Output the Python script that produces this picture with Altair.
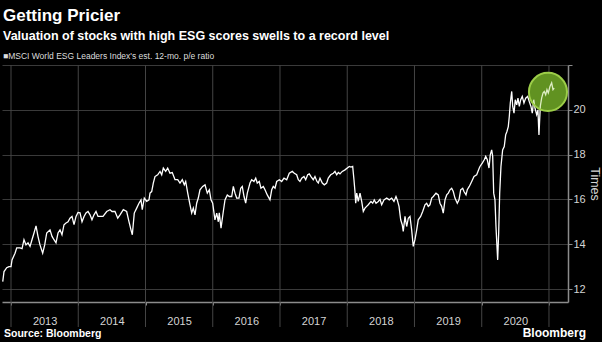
import altair as alt
import pandas as pd

FONT = "Liberation Sans"

# ---- data: MSCI World ESG Leaders Index est. 12-mo. p/e ratio (decimal years) ----
dates = [
    2012.877, 2012.896, 2012.936, 2012.97, 2013.0, 2013.015, 2013.06, 2013.085, 2013.134, 2013.164,
    2013.193, 2013.223, 2013.253, 2013.283, 2013.312, 2013.342, 2013.372, 2013.401, 2013.431, 2013.471,
    2013.501, 2013.531, 2013.58, 2013.61, 2013.639, 2013.669, 2013.699, 2013.729, 2013.758, 2013.788,
    2013.818, 2013.848, 2013.877, 2013.907, 2013.937, 2013.967, 2013.996,
    2014.026, 2014.056, 2014.086, 2014.115, 2014.145, 2014.175, 2014.204, 2014.234, 2014.264, 2014.294,
    2014.323, 2014.368, 2014.423, 2014.472, 2014.502, 2014.546, 2014.587, 2014.621, 2014.67, 2014.72,
    2014.755, 2014.784, 2014.804, 2014.833, 2014.869, 2014.903, 2014.933, 2014.952, 2014.982,
    2015.018, 2015.052, 2015.067, 2015.092, 2015.116, 2015.141, 2015.181, 2015.216, 2015.241, 2015.265,
    2015.3, 2015.33, 2015.364, 2015.398, 2015.439, 2015.479, 2015.513, 2015.547, 2015.577, 2015.598,
    2015.628, 2015.662, 2015.687, 2015.711, 2015.736, 2015.761, 2015.785, 2015.81, 2015.85, 2015.885,
    2015.919, 2015.949, 2015.974, 2015.999,
    2016.033, 2016.059, 2016.083, 2016.097, 2016.123, 2016.157, 2016.182, 2016.216, 2016.246, 2016.282,
    2016.306, 2016.331, 2016.356, 2016.39, 2016.416, 2016.439, 2016.465, 2016.49, 2016.514, 2016.554,
    2016.579, 2016.613, 2016.639, 2016.662, 2016.692, 2016.717, 2016.752, 2016.777, 2016.811, 2016.851,
    2016.877, 2016.9, 2016.926, 2016.951, 2016.99,
    2017.025, 2017.06, 2017.1, 2017.138, 2017.183, 2017.213, 2017.248, 2017.272, 2017.297, 2017.323,
    2017.357, 2017.382, 2017.412, 2017.436, 2017.461, 2017.495, 2017.52, 2017.55, 2017.57, 2017.595,
    2017.629, 2017.659, 2017.694, 2017.718, 2017.754, 2017.793, 2017.818, 2017.843, 2017.867, 2017.892,
    2017.926, 2017.967,
    2018.001, 2018.031, 2018.056, 2018.081, 2018.1, 2018.115, 2018.126, 2018.141, 2018.164, 2018.19,
    2018.215, 2018.239, 2018.264, 2018.289, 2018.313, 2018.353, 2018.379, 2018.402, 2018.428, 2018.462,
    2018.487, 2018.512, 2018.546, 2018.587, 2018.625, 2018.661, 2018.695, 2018.725, 2018.744, 2018.77,
    2018.795, 2018.818, 2018.833, 2018.859, 2018.884, 2018.908, 2018.933, 2018.958, 2018.982,
    2019.007, 2019.033, 2019.056, 2019.092, 2019.122, 2019.156, 2019.181, 2019.205, 2019.23, 2019.256,
    2019.28, 2019.32, 2019.354, 2019.379, 2019.404, 2019.428, 2019.454, 2019.479, 2019.503, 2019.528,
    2019.553, 2019.577, 2019.602, 2019.637, 2019.662, 2019.687, 2019.717, 2019.736, 2019.766, 2019.785,
    2019.815, 2019.851, 2019.885, 2019.925, 2019.964, 2019.974,
    2020.008, 2020.038, 2020.059, 2020.083, 2020.108, 2020.127, 2020.148, 2020.163, 2020.178, 2020.197,
    2020.212, 2020.227, 2020.237, 2020.252, 2020.267, 2020.286, 2020.311, 2020.335, 2020.356, 2020.375,
    2020.395, 2020.41, 2020.425, 2020.446, 2020.461, 2020.48, 2020.499, 2020.52, 2020.539, 2020.559,
    2020.58, 2020.603, 2020.628, 2020.654, 2020.683, 2020.707, 2020.732, 2020.752, 2020.773, 2020.792,
    2020.817, 2020.836, 2020.851, 2020.871, 2020.891, 2020.911, 2020.93, 2020.951, 2020.97, 2020.99,
    2021.015, 2021.04, 2021.06, 2021.078,
]
pe_ratio = [
    12.33, 12.78, 12.95, 13.0, 13.0, 13.3, 13.6, 13.84, 13.84, 13.8,
    14.2, 13.97, 14.06, 13.9, 14.2, 14.5, 14.82, 14.35, 13.97, 13.6,
    13.97, 14.5, 14.64, 14.35, 14.2, 14.06, 14.5, 14.64, 14.42, 14.87,
    14.95, 15.0, 15.16, 15.24, 14.87, 15.24, 15.42,
    15.4, 15.0, 15.24, 15.4, 15.46, 15.31, 15.09, 15.31, 15.46, 15.24,
    15.24, 15.24, 15.46, 15.54, 15.46, 15.46, 15.16, 15.31, 15.54, 15.46,
    15.0, 14.64, 14.42, 15.39, 15.61, 15.83, 15.98, 15.54, 16.06,
    15.91, 15.98, 16.28, 16.35, 16.73, 17.02, 17.1, 17.25, 17.1, 17.4,
    17.25, 17.4, 17.17, 17.2, 16.88, 16.88, 16.73, 16.88, 16.65, 16.8,
    16.28, 15.76, 15.39, 15.61, 15.31, 15.83, 16.06, 16.43, 16.58, 16.65,
    16.28, 16.43, 15.98, 15.83,
    15.09, 15.39, 15.0, 15.4, 14.72, 15.46, 15.98, 16.2, 16.13, 16.13,
    16.58, 16.28, 16.06, 16.06, 16.5, 16.58, 16.13, 15.83, 16.28, 16.73,
    16.88, 16.8, 16.95, 16.73, 16.8, 16.5, 16.58, 16.43, 16.2, 15.98,
    16.43, 16.58, 16.5, 16.8, 16.88,
    16.8, 16.95, 16.88, 17.17, 17.25, 17.17, 17.1, 16.88, 16.8, 16.95,
    17.02, 16.88, 17.1, 17.14, 17.02, 16.88, 17.02, 16.8, 16.73, 16.95,
    16.73, 16.65, 16.73, 16.95, 17.1, 17.17, 17.25, 17.1, 17.2, 17.14,
    17.25, 17.32,
    17.4, 17.47, 17.44, 17.47, 16.88, 16.35, 15.83, 16.28, 15.91, 16.28,
    15.91, 15.46, 15.61, 15.69, 15.76, 15.91, 15.83, 15.98, 15.83, 15.91,
    16.0, 15.76, 15.98, 16.06, 15.98, 16.06, 15.91, 16.13, 15.98, 15.69,
    15.09, 14.87, 14.57, 15.24, 14.79, 15.16, 15.24, 14.64, 13.9,
    14.2, 14.64, 15.09, 15.24, 15.46, 15.76, 15.83, 15.69, 15.76, 16.06,
    16.13, 16.28, 16.2, 15.83, 15.69, 15.39, 15.98, 16.2, 16.28, 16.43,
    16.5, 16.35, 16.06, 15.83, 15.98, 16.43, 16.5, 16.35, 16.2, 16.43,
    16.58, 16.8, 17.02, 17.1, 17.4, 17.47,
    17.62, 17.77, 17.92, 17.77, 17.4, 17.99, 18.21, 17.92, 16.28, 15.98,
    14.79, 13.9, 13.3, 14.5, 16.28, 17.47, 18.21, 18.36, 18.88, 19.03,
    19.25, 19.7, 20.3, 20.82, 20.15, 19.85, 20.45, 20.22, 20.52, 20.15,
    20.45, 20.6, 20.3, 20.52, 20.6, 20.37, 20.15, 19.85, 20.45, 20.07,
    19.78, 20.0, 18.88, 20.15, 20.52, 20.75, 20.82, 20.67, 20.9, 20.75,
    21.04, 21.2, 20.9, 20.97,
]
assert len(dates) == len(pe_ratio)

year_ticks = [2013, 2014, 2015, 2016, 2017, 2018, 2019, 2020, 2021]
y_ticks = [12, 14, 16, 18, 20, 22]
highlight_year = [2020.985]
highlight_pe = [20.8]

title_text = ["Getting Pricier"]
subtitle_text = ["Valuation of stocks with high ESG scores swells to a record level"]
legend_text = ["\u25a0MSCI World ESG Leaders Index's est. 12-mo. p/e ratio"]
source_text = ["Source:  Bloomberg"]
brand_text = ["Bloomberg"]

df = pd.DataFrame({"year": dates, "pe": pe_ratio})
grid_df = pd.DataFrame({"year": year_ticks})
hl_df = pd.DataFrame({"year": highlight_year, "pe": highlight_pe})

W, H = 566, 237
GRID = "#3a3a3a"
AXIS = "#8c8c8c"
LABEL = "#d4d4d4"

quarter_ticks = [y + q for y in year_ticks[:-1] for q in (0, 0.25, 0.5, 0.75)] + [year_ticks[-1]]

x_scale = alt.Scale(domain=[2012.866, 2021.283], nice=False, zero=False)
y_scale = alt.Scale(domain=[11.42, 22.0], nice=False, zero=False)

x_axis = alt.Axis(
    values=quarter_ticks, title=None, grid=False, format="d",
    labelExpr="(datum.value % 1 == 0 && datum.value < 2021) ? datum.label : ''",
    labelOffset=33.6, labelPadding=10, labelFlush=False, labelOverlap=False,
    labelFont=FONT, labelFontSize=11, labelColor=LABEL,
    tickSize=3, tickColor=AXIS, domainColor=AXIS, domainWidth=1.5,
)
y_axis = alt.Axis(
    orient="right", values=y_ticks, title="Times",
    labelExpr="datum.value == 22 ? '' : datum.label",
    grid=True, gridColor=GRID, gridWidth=1,
    domainColor=AXIS, domainWidth=1.5, tickColor=AXIS, tickSize=4,
    labelFont=FONT, labelFontSize=11, labelColor=LABEL, labelPadding=1,
    titleFont=FONT, titleFontSize=12.5, titleFontWeight="normal", titleColor=LABEL,
    titlePadding=2,
)

x_enc = alt.X("year:Q", scale=x_scale, axis=x_axis)
y_enc = alt.Y("pe:Q", scale=y_scale, axis=y_axis)

vgrid = alt.Chart(grid_df).mark_rule(color="#444444", strokeWidth=1).encode(
    x=x_enc, y=alt.value(0), y2=alt.value(H + 25)
)
circle = alt.Chart(hl_df).mark_point(
    shape="circle", filled=True, size=1450, fill="#4e7d16", fillOpacity=1,
    strokeWidth=0, opacity=1,
).encode(x=x_enc, y=y_enc)
line = alt.Chart(df).mark_line(color="white", strokeWidth=1.3).encode(x=x_enc, y=y_enc)
circle_tint = alt.Chart(hl_df).mark_point(
    shape="circle", filled=True, size=1450, fill="#8fc43a", fillOpacity=0.3,
    stroke="#9ccd48", strokeWidth=2, strokeOpacity=1, opacity=1,
).encode(x=x_enc, y=y_enc)


def text_layer(txt, x, y, size, weight="normal", align="left", color="white"):
    return alt.Chart(pd.DataFrame({"t": txt})).mark_text(
        align=align, baseline="alphabetic", font=FONT, fontSize=size,
        fontWeight=weight, color=color,
    ).encode(x=alt.value(x), y=alt.value(y), text="t:N")


texts = [
    text_layer(title_text, 1, -44, 17, "bold"),
    text_layer(subtitle_text, 1, -25, 12.5, "bold"),
    text_layer(legend_text, 1, -6, 8.5, "normal", color="#dddddd"),
    text_layer(source_text, 2, 272, 10.5, "bold"),
    text_layer(brand_text, 584, 272, 12, "bold", align="right"),
]

chart = alt.layer(vgrid, circle, line, circle_tint, *texts).properties(
    width=W, height=H,
    autosize=alt.AutoSizeParams(type="none"),
    padding={"left": 2, "top": 65, "right": 34, "bottom": 40},
    background="black",
).configure_view(stroke=None)

chart.save("out.html", embed_options={"renderer": "svg", "actions": False})
